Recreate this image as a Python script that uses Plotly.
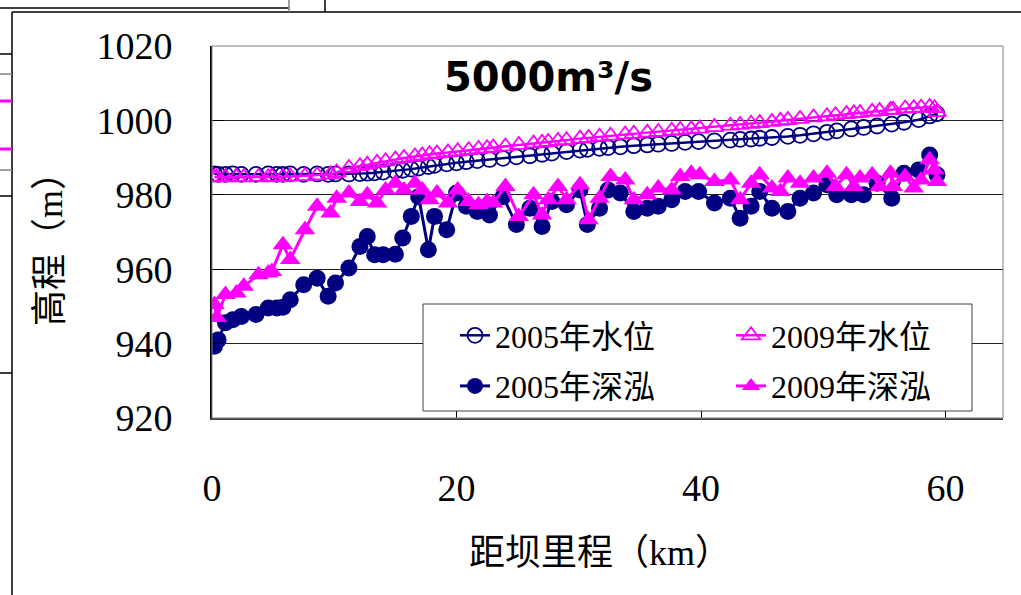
import plotly.graph_objects as go

# ---------------- data ----------------
km_2005 = [0.2, 0.5, 1.1, 1.7, 2.4, 3.6, 4.6, 5.3, 5.8, 6.4,
           7.5, 8.6, 9.5, 10.1, 11.2, 12.1, 12.7, 13.3, 14.0, 15.0,
           15.6, 16.3, 16.9, 17.7, 18.2, 19.2, 20.0, 20.8, 21.7, 22.7,
           23.8, 24.9, 26.0, 27.0, 27.8, 29.0, 30.1, 30.7, 31.7, 32.4,
           33.4, 34.5, 35.6, 36.5, 37.6, 38.7, 39.8, 41.1, 42.4, 43.2,
           44.1, 44.8, 45.8, 47.1, 48.1, 49.2, 50.3, 51.1, 52.3, 53.3,
           54.4, 55.6, 56.6, 57.8, 58.7, 59.3]
thalweg_2005 = [939.3, 941.0, 945.6, 946.4, 947.3, 947.8, 949.6, 949.6, 949.8, 951.8,
                955.8, 957.6, 952.7, 956.3, 960.3, 966.1, 968.8, 963.9, 963.9, 964.0,
                968.4, 974.2, 979.5, 965.2, 974.2, 970.6, 980.5, 976.9, 975.5, 974.6,
                979.5, 972.0, 976.4, 971.5, 978.2, 977.3, 981.3, 972.0, 976.4, 981.3,
                980.5, 975.5, 976.4, 976.9, 978.7, 980.9, 980.9, 977.8, 979.1, 973.7,
                976.9, 980.9, 976.4, 975.5, 979.1, 980.5, 982.7, 980.0, 980.0, 980.0,
                983.1, 979.1, 985.8, 986.7, 990.7, 985.4]
level_2005 = [985.6, 985.5, 985.5, 985.6, 985.5, 985.5, 985.6, 985.5, 985.5, 985.6,
              985.5, 985.6, 985.5, 985.6, 985.6, 985.7, 985.8, 985.9, 986.1, 986.4,
              986.6, 986.9, 987.2, 987.6, 987.9, 988.3, 988.6, 988.9, 989.2, 989.5,
              989.8, 990.2, 990.5, 990.9, 991.2, 991.6, 992.0, 992.2, 992.5, 992.7,
              992.9, 993.2, 993.4, 993.6, 993.8, 994.1, 994.3, 994.5, 994.7, 994.9,
              995.0, 995.2, 995.4, 995.7, 996.0, 996.4, 996.8, 997.2, 997.7, 998.1,
              998.5, 999.0, 999.5, 1000.2, 1001.2, 1001.8]

km_2009 = [0.2, 0.4, 1.1, 2.0, 2.6, 3.8, 4.6, 4.9, 5.8, 6.4,
           7.6, 8.6, 9.7, 10.2, 11.2, 12.1, 12.7, 13.5, 14.2, 15.0,
           15.7, 16.6, 17.2, 17.8, 18.4, 19.3, 20.1, 21.0, 21.8, 22.5,
           23.0, 24.0, 25.1, 26.3, 27.0, 27.5, 28.3, 29.0, 30.1, 30.8,
           31.7, 32.6, 33.8, 34.5, 35.6, 36.5, 37.6, 38.3, 39.2, 39.9,
           41.1, 42.4, 43.2, 44.1, 44.8, 45.8, 46.5, 47.1, 48.1, 49.2,
           50.3, 51.0, 51.9, 52.5, 53.0, 54.0, 54.6, 55.5, 55.7, 56.7,
           57.4, 58.0, 58.7, 59.1, 59.3]
thalweg_2009 = [950.5, 947.0, 953.2, 953.6, 955.4, 958.5, 959.0, 959.4, 966.6, 962.6,
                970.6, 976.9, 975.1, 979.1, 980.5, 978.2, 980.0, 977.8, 981.3, 983.1,
                981.3, 983.1, 981.3, 978.7, 980.5, 977.8, 981.3, 978.2, 977.3, 978.2,
                977.8, 982.2, 974.2, 980.0, 974.6, 978.7, 982.2, 978.7, 982.7, 973.3,
                979.1, 984.9, 984.0, 978.7, 980.0, 981.8, 981.3, 984.9, 985.8, 985.4,
                983.6, 984.0, 978.7, 983.1, 985.4, 981.8, 980.9, 984.5, 983.1, 984.5,
                985.8, 982.2, 985.4, 982.2, 984.5, 985.4, 982.2, 985.8, 982.2, 984.9,
                981.8, 984.0, 989.4, 986.7, 983.6]
level_2009 = [984.7, 984.8, 984.7, 984.8, 984.7, 984.8, 984.7, 984.8, 984.8, 984.9,
              985.0, 985.2, 985.5, 986.0, 987.2, 987.7, 988.1, 988.6, 989.0, 989.5,
              989.9, 990.3, 990.6, 990.9, 991.1, 991.4, 991.7, 992.0, 992.3, 992.5,
              992.7, 993.0, 993.4, 993.8, 994.0, 994.2, 994.5, 994.7, 995.1, 995.3,
              995.6, 995.9, 996.2, 996.4, 996.7, 996.9, 997.2, 997.4, 997.6, 997.8,
              998.2, 998.6, 998.8, 999.1, 999.3, 999.6, 999.9, 1000.1, 1000.4, 1000.8,
              1001.1, 1001.4, 1001.7, 1001.9, 1002.0, 1002.3, 1002.5, 1002.8, 1002.9, 1003.2,
              1003.3, 1003.4, 1003.6, 1003.3, 1002.2]

names = ["2005年水位", "2009年水位", "2005年深泓", "2009年深泓"]
x_ticks = [0, 20, 40, 60]
y_ticks = [920, 940, 960, 980, 1000, 1020]
title_text = "5000m³/s"
x_title = "距坝里程（km）"
y_title = "高程（m）"

NAVY = "#000080"
MAGENTA = "#FF00FF"
SERIF = "Liberation Serif, Noto Sans CJK SC, serif"

# ---------------- layout geometry (pixels) ----------------
W, H = 1021, 595
L, R, T, B = 212, 18, 46, 177
PW, PH = W - L - R, H - T - B


def px(x):
    return (x - L) / PW


def py(y):
    return (H - B - y) / PH


fig = go.Figure()

fig.add_trace(go.Scatter(
    x=km_2005, y=level_2005, name=names[0], mode="lines+markers",
    line=dict(color=NAVY, width=2.5),
    marker=dict(symbol="circle-open", size=15, color=NAVY, line=dict(width=1.8, color=NAVY)),
    legend="legend", legendgroup="a"))
fig.add_trace(go.Scatter(
    x=km_2009, y=level_2009, name=names[1], mode="lines+markers",
    line=dict(color=MAGENTA, width=2.5),
    marker=dict(symbol="triangle-up-open", size=16, color=MAGENTA, line=dict(width=1.8, color=MAGENTA)),
    legend="legend2", legendgroup="b"))
fig.add_trace(go.Scatter(
    x=km_2005, y=thalweg_2005, name=names[2], mode="lines+markers",
    line=dict(color=NAVY, width=3),
    marker=dict(symbol="circle", size=17, color=NAVY),
    legend="legend", legendgroup="c"))
fig.add_trace(go.Scatter(
    x=km_2009, y=thalweg_2009, name=names[3], mode="lines+markers",
    line=dict(color=MAGENTA, width=3),
    marker=dict(symbol="triangle-up", size=18, color=MAGENTA),
    legend="legend2", legendgroup="d"))

shapes = []
# plot-area border (gray)
shapes.append(dict(type="rect", xref="paper", yref="paper", x0=0, y0=0, x1=1, y1=1,
                   line=dict(color="#808080", width=1), layer="above"))
# legend box
shapes.append(dict(type="rect", xref="paper", yref="paper",
                   x0=px(423), x1=px(972), y0=py(411), y1=py(304),
                   line=dict(color="#404040", width=1), fillcolor="white", layer="above"))
# chart frame and surrounding sheet lines
frame = [
    (12, 12, W + 5, 12, "#000000"),
    (12, 12, 12, H + 5, "#000000"),
    (-5, 8, 289, 8, "#000000"),
    (289, -5, 289, 12, "#808080"),
    (325, -5, 325, 12, "#000000"),
    (-5, 54, 12, 54, "#000000"),
    (-5, 74, 12, 74, "#808080"),
    (-5, 170, 12, 170, "#808080"),
    (-5, 196, 12, 196, "#000000"),
    (-5, 373, 12, 373, "#000000"),
]
for x0, y0, x1, y1, c in frame:
    shapes.append(dict(type="line", xref="paper", yref="paper",
                       x0=px(x0), y0=py(y0), x1=px(x1), y1=py(y1),
                       line=dict(color=c, width=1.5)))
for yy in (101, 149):
    shapes.append(dict(type="line", xref="paper", yref="paper",
                       x0=px(-5), y0=py(yy), x1=px(12), y1=py(yy),
                       line=dict(color=MAGENTA, width=3)))

annotations = [
    dict(text="<b>" + title_text + "</b>", xref="paper", yref="paper",
         x=px(548), y=py(77), xanchor="center", yanchor="middle", showarrow=False,
         font=dict(family="DejaVu Sans", size=40, color="black")),
    dict(text=x_title, xref="paper", yref="paper",
         x=px(600), y=py(553), xanchor="center", yanchor="middle", showarrow=False,
         font=dict(family=SERIF, size=36, color="black")),
    dict(text=y_title, xref="paper", yref="paper", textangle=-90,
         x=px(50), y=py(240), xanchor="center", yanchor="middle", showarrow=False,
         font=dict(family=SERIF, size=36, color="black")),
]

legend_common = dict(
    bgcolor="rgba(0,0,0,0)", borderwidth=0,
    font=dict(family=SERIF, size=32, color="black"),
    orientation="v", xanchor="left", yanchor="top",
    traceorder="grouped", tracegroupgap=6, itemsizing="trace",
)

fig.update_layout(
    width=W, height=H,
    margin=dict(l=L, r=R, t=T, b=B, pad=0),
    paper_bgcolor="white", plot_bgcolor="white",
    showlegend=True,
    legend=dict(x=px(455), y=py(308), **legend_common),
    legend2=dict(x=px(731), y=py(308), **legend_common),
    shapes=shapes,
    annotations=annotations,
    xaxis=dict(range=[0, 64.7], tickvals=x_ticks, ticks="inside", ticklen=13,
               tickcolor="black", tickwidth=1, showgrid=False, zeroline=False,
               showline=True, linecolor="#404040", linewidth=2,
               tickfont=dict(family=SERIF, size=38, color="black"),
               ticklabelstandoff=35),
    yaxis=dict(range=[920, 1020], tickvals=y_ticks, ticks="inside", ticklen=12,
               tickcolor="black", tickwidth=1, showgrid=True, gridcolor="#202020",
               gridwidth=1, zeroline=False,
               showline=True, linecolor="black", linewidth=2,
               tickfont=dict(family=SERIF, size=38, color="black"),
               ticklabelstandoff=30),
)

fig.write_html("out.html")
